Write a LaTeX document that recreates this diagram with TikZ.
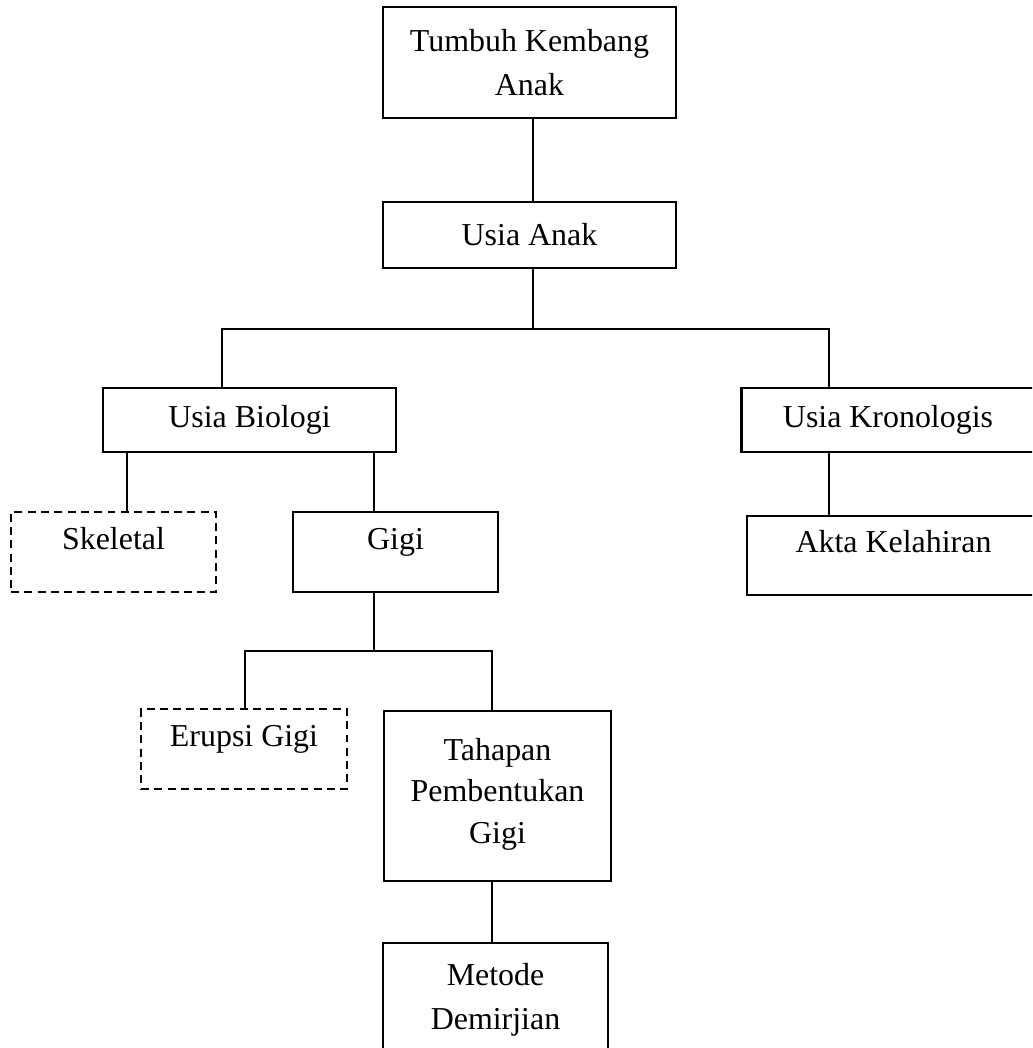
\documentclass[tikz,border=0pt]{standalone}
\usepackage{fontspec}
\setmainfont{Liberation Serif}
\begin{document}
\begin{tikzpicture}[
    x=0.376pt,y=-0.376pt,
    every node/.style={font=\fontsize{12}{16.5}\selectfont, align=center, inner sep=0pt},
    box/.style={draw=black, line width=0.8pt},
    dbox/.style={box, dash pattern=on 3pt off 2pt},
    padb/.style={text height=8.2pt, text depth=10.2pt},
    link/.style={draw=black, line width=0.8pt}
]
    \useasboundingbox (0,0) rectangle (1032,1048);
    \clip (0,0) rectangle (1032,1048);

    \node[box, minimum width=110.2pt, minimum height=41.7pt] (tka) at (529.5,62.5) {Tumbuh Kembang\\Anak};
    \node[box, minimum width=110.2pt, minimum height=24.8pt] (ua) at (529.5,235) {Usia Anak};
    \node[box, minimum width=110.2pt, minimum height=24.1pt] (ub) at (249.5,420) {Usia Biologi};
    \node[box, minimum width=110.2pt, minimum height=24.1pt] (uk) at (888,420) {Usia Kronologis};
    \node[dbox, padb, minimum width=77.1pt, minimum height=30.1pt] (sk) at (113.5,552) {Skeletal};
    \node[box, padb, minimum width=77.1pt, minimum height=30.1pt] (gg) at (395.5,552) {Gigi};
    \node[box, padb, minimum width=110.2pt, minimum height=29.7pt] (ak) at (893.5,555.5) {Akta Kelahiran};
    \node[dbox, padb, minimum width=77.5pt, minimum height=30.1pt] (eg) at (244,749) {Erupsi Gigi};
    \node[box, minimum width=85.4pt, minimum height=63.9pt] (tp) at (497.5,796) {Tahapan\\[-0.8pt]Pembentukan\\[-0.8pt]Gigi\\[-12.5pt]\mbox{}};
    \node[box, minimum width=84.6pt, minimum height=49.6pt] (md) at (495.5,1009) {Metode\\Demirjian\\[-7pt]\mbox{}};

    \coordinate (jA) at (533,329);
    \coordinate (jL) at (222,329);
    \coordinate (jR) at (829,329);
    \coordinate (jS) at (127,480);
    \coordinate (jG) at (374,651);
    \coordinate (jE) at (245,651);
    \coordinate (jT) at (492,651);

    \draw[link] (tka.south -| jA) -- (ua.north -| jA);
    \draw[link] (ua.south -| jA) -- (jA);
    \draw[link] (ub.north -| jL) -- (jL) -- (jR) -- (uk.north -| jR);
    \draw[link] (ub.south -| jS) -- (sk.north -| jS);
    \draw[link] (ub.south -| jG) -- (gg.north -| jG);
    \draw[link] (uk.south -| jR) -- (ak.north -| jR);
    \draw[link] (gg.south -| jG) -- (jG);
    \draw[link] (eg.north -| jE) -- (jE) -- (jT) -- (tp.north -| jT);
    \draw[link] (tp.south -| jT) -- (md.north -| jT);
\end{tikzpicture}
\end{document}
